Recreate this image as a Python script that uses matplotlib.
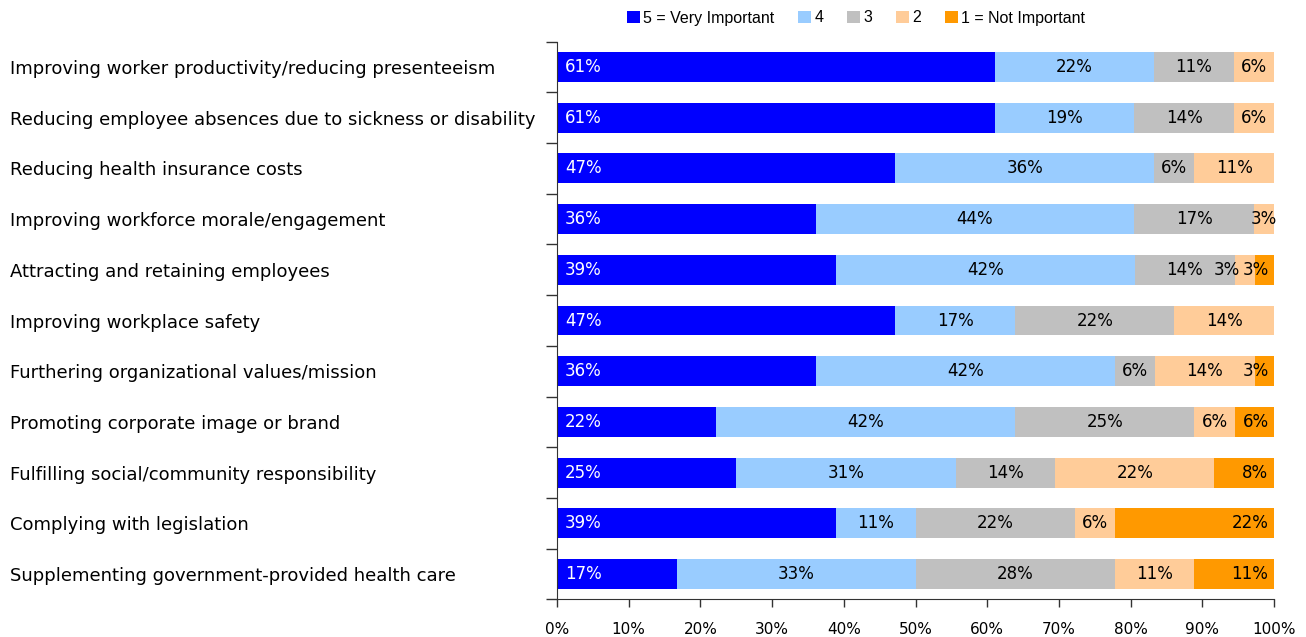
import numpy as np
import matplotlib.pyplot as plt

categories = [
    "Improving worker productivity/reducing presenteeism",
    "Reducing employee absences due to sickness or disability",
    "Reducing health insurance costs",
    "Improving workforce morale/engagement",
    "Attracting and retaining employees",
    "Improving workplace safety",
    "Furthering organizational values/mission",
    "Promoting corporate image or brand",
    "Fulfilling social/community responsibility",
    "Complying with legislation",
    "Supplementing government-provided health care",
]

# share of respondents (%) per rating, one list per rating
very_important = [61.1, 61.1, 47.2, 36.1, 38.9, 47.2, 36.1, 22.2, 25.0, 38.9, 16.7]
rating_4 = [22.2, 19.4, 36.1, 44.4, 41.7, 16.7, 41.7, 41.7, 30.6, 11.1, 33.3]
rating_3 = [11.1, 13.9, 5.6, 16.7, 13.9, 22.2, 5.6, 25.0, 13.9, 22.2, 27.8]
rating_2 = [5.6, 5.6, 11.1, 2.8, 2.8, 13.9, 13.9, 5.6, 22.2, 5.6, 11.1]
not_important = [0.0, 0.0, 0.0, 0.0, 2.8, 0.0, 2.8, 5.6, 8.3, 22.2, 11.1]

series = [very_important, rating_4, rating_3, rating_2, not_important]
series_names = ["5 = Very Important", "4", "3", "2", "1 = Not Important"]
colors = ["#0000FF", "#99CCFF", "#C0C0C0", "#FFCC99", "#FF9900"]
text_colors = ["white", "black", "black", "black", "black"]
label_pos = ["base", "center", "center", "center", "end"]

plt.rcParams['font.family'] = ['DejaVu Sans']

fig = plt.figure(figsize=(13.06, 6.37), dpi=100)
ax = fig.add_axes([0.4265, 0.0591, 0.549, 0.8755])

y = np.arange(len(categories))
left = np.zeros(len(categories))
handles = []
for k, (vals, name, col, tcol, pos) in enumerate(zip(series, series_names, colors, text_colors, label_pos)):
    vals = np.array(vals)
    bars = ax.barh(y, vals, left=left, height=0.59, color=col, label=name)
    handles.append(bars)
    for i, v in enumerate(vals):
        if v <= 0:
            continue
        if pos == "base":
            x, ha = left[i] + 1.1, "left"
        elif pos == "end":
            x, ha = left[i] + v - 0.8, "right"
        else:
            x, ha = left[i] + v / 2, "center"
            # thin centred label followed by a thin end label: push it left
            nxt = series[k + 1][i] if k + 1 < len(series) else 0
            if v < 4 and 0 < nxt < 4 and label_pos[k + 1] == "end":
                x, ha = left[i] + v - 2.0, "right"
        ax.text(x, y[i], "%.0f%%" % v, ha=ha, va="center", color=tcol, fontsize=12)
    left += vals

ax.set_xlim(0, 100)
ax.set_ylim(len(categories) - 0.5, -0.5)
ax.set_xticks(np.arange(0, 101, 10))
ax.set_xticklabels(["%d%%" % t for t in range(0, 101, 10)], fontsize=11)
ax.tick_params(axis='x', length=6, width=1, color='#333333', pad=10)

ax.set_yticks(y)
ax.set_yticklabels(categories, fontsize=13, ha='left')
ax.tick_params(axis='y', which='major', length=0, pad=394)
ax.set_yticks(np.arange(-0.5, len(categories), 1), minor=True)
ax.tick_params(axis='y', which='minor', length=8, width=1, color='#333333')

for s in ['top', 'right']:
    ax.spines[s].set_visible(False)
for s in ['left', 'bottom']:
    ax.spines[s].set_color('#333333')

fig.legend(handles=handles, loc='center', bbox_to_anchor=(856 / 1306, 1 - 18 / 637),
           ncol=5, frameon=False, handlelength=0.8, handleheight=0.8,
           handletextpad=0.2, columnspacing=1.5,
           prop={'family': ['Liberation Sans', 'DejaVu Sans'], 'size': 11.5})

fig.savefig("out.png", dpi=100)
